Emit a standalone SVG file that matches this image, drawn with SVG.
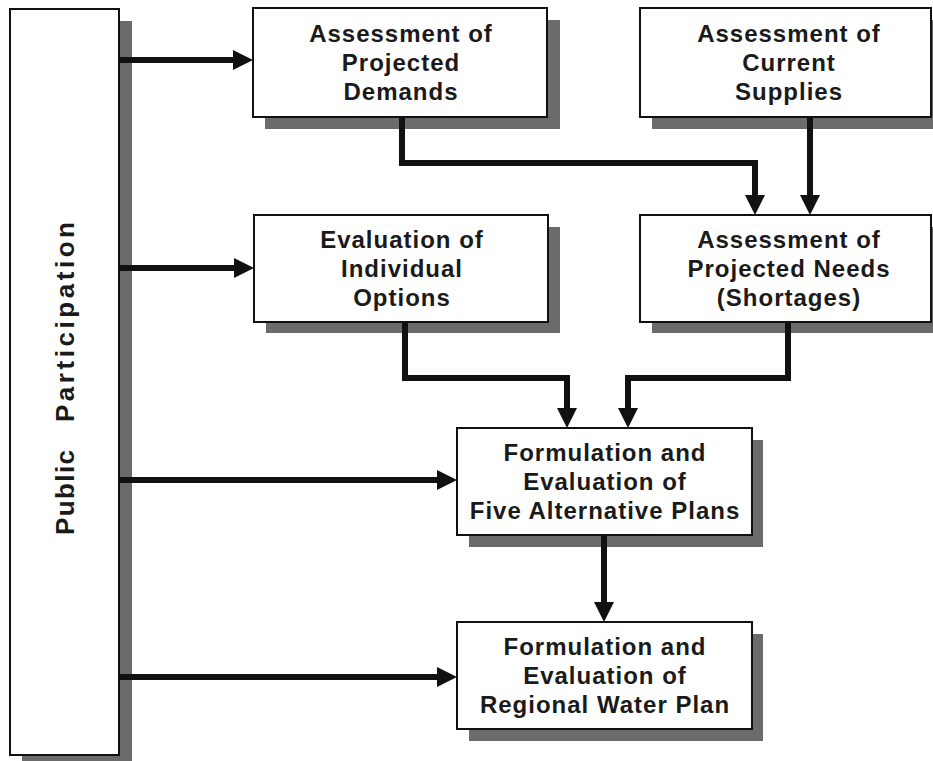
<svg xmlns="http://www.w3.org/2000/svg" width="933" height="761" viewBox="0 0 933 761">
<style>
.box{fill:#fff;stroke:#111;stroke-width:2}
.shadow{fill:#6b6b6b}
.lbl{font-family:"Liberation Sans",Arial,sans-serif;font-weight:bold;font-size:24px;letter-spacing:1px;fill:#1a1a1a;text-anchor:middle}
.vlbl{font-family:"Liberation Sans",Arial,sans-serif;font-weight:bold;font-size:26px;fill:#1a1a1a}
.conn{fill:none;stroke:#111;stroke-width:6;stroke-linejoin:miter;marker-end:url(#ah)}
</style>
<defs>
<marker id="ah" markerUnits="userSpaceOnUse" markerWidth="20" markerHeight="20" refX="0" refY="10" orient="auto">
<path d="M0,0 L20,10 L0,20 z" fill="#111"/>
</marker>
</defs>
<rect width="933" height="761" fill="#fff"/>
<g id="public-participation">
<rect class="shadow" x="22" y="21" width="110" height="746"/>
<rect class="box" x="10" y="9" width="109" height="746"/>
<g transform="translate(74,535) rotate(-90)">
<text class="vlbl" x="0" y="0" textLength="85" lengthAdjust="spacing">Public</text>
<text class="vlbl" x="113" y="0" textLength="200" lengthAdjust="spacing">Participation</text>
</g>
</g>
<g id="projected-demands">
<rect class="shadow" x="265" y="20" width="295" height="109"/>
<rect class="box" x="253" y="8" width="294" height="109"/>
<text class="lbl" x="401" y="42">Assessment of</text>
<text class="lbl" x="401" y="71">Projected</text>
<text class="lbl" x="401" y="100">Demands</text>
</g>
<g id="current-supplies">
<rect class="shadow" x="652" y="20" width="300" height="109"/>
<rect class="box" x="640" y="8" width="291" height="109"/>
<text class="lbl" x="789" y="42">Assessment of</text>
<text class="lbl" x="789" y="71">Current</text>
<text class="lbl" x="789" y="100">Supplies</text>
</g>
<g id="individual-options">
<rect class="shadow" x="266" y="227" width="294" height="106"/>
<rect class="box" x="254" y="215" width="294" height="107"/>
<text class="lbl" x="402" y="248">Evaluation of</text>
<text class="lbl" x="402" y="277">Individual</text>
<text class="lbl" x="402" y="306">Options</text>
</g>
<g id="projected-needs">
<rect class="shadow" x="652" y="227" width="300" height="106"/>
<rect class="box" x="640" y="215" width="291" height="107"/>
<text class="lbl" x="789" y="248">Assessment of</text>
<text class="lbl" x="789" y="277">Projected Needs</text>
<text class="lbl" x="789" y="306">(Shortages)</text>
</g>
<g id="five-alternative-plans">
<rect class="shadow" x="469" y="440" width="294" height="107"/>
<rect class="box" x="457" y="428" width="295" height="107"/>
<text class="lbl" x="605" y="461">Formulation and</text>
<text class="lbl" x="605" y="490">Evaluation of</text>
<text class="lbl" x="605" y="519">Five Alternative Plans</text>
</g>
<g id="regional-water-plan">
<rect class="shadow" x="469" y="634" width="294" height="107"/>
<rect class="box" x="457" y="622" width="295" height="107"/>
<text class="lbl" x="605" y="655">Formulation and</text>
<text class="lbl" x="605" y="684">Evaluation of</text>
<text class="lbl" x="605" y="713">Regional Water Plan</text>
</g>
<g id="connectors">
<path class="conn" d="M119,60 H233"/>
<path class="conn" d="M119,268 H234"/>
<path class="conn" d="M119,480 H437"/>
<path class="conn" d="M119,677 H437"/>
<path class="conn" d="M402,117 V163 H755 V195"/>
<path class="conn" d="M810,117 V195"/>
<path class="conn" d="M405,322 V378 H567 V408"/>
<path class="conn" d="M788,322 V378 H628 V408"/>
<path class="conn" d="M604,535 V602"/>
</g>
</svg>
